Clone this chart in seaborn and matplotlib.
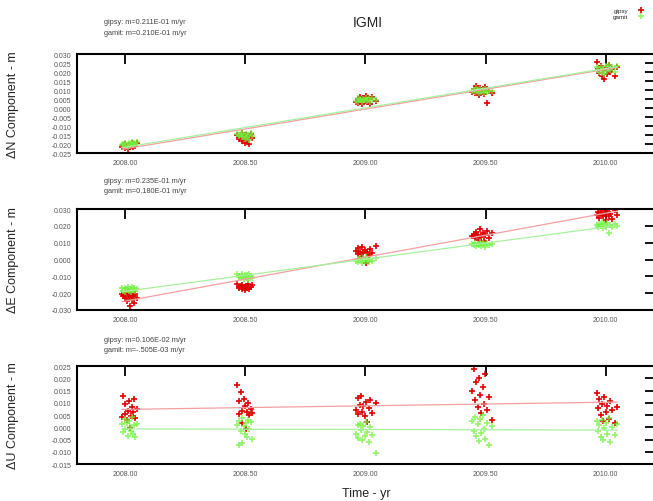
import numpy as np
import pandas as pd
import seaborn as sns
import matplotlib.pyplot as plt
from matplotlib.ticker import FormatStrFormatter

# campaign epochs (decimal year), 14 daily solutions per campaign
time = [2007.987, 2007.992, 2007.998, 2008.001, 2008.007, 2008.010, 2008.016, 2008.019, 2008.025, 2008.028, 2008.034, 2008.039, 2008.043, 2008.049,
        2008.466, 2008.472, 2008.475, 2008.481, 2008.486, 2008.488, 2008.494, 2008.498, 2008.504, 2008.507, 2008.513, 2008.516, 2008.522, 2008.527,
        2008.962, 2008.968, 2008.971, 2008.977, 2008.983, 2008.986, 2008.992, 2008.997, 2009.003, 2009.008, 2009.014, 2009.019, 2009.026, 2009.045,
        2009.445, 2009.452, 2009.456, 2009.461, 2009.468, 2009.471, 2009.477, 2009.483, 2009.488, 2009.494, 2009.499, 2009.506, 2009.515, 2009.528,
        2009.962, 2009.968, 2009.972, 2009.979, 2009.984, 2009.989, 2009.995, 2010.001, 2010.007, 2010.013, 2010.019, 2010.026, 2010.037, 2010.048]

n_gipsy = [-0.0215, -0.0205, -0.0222, -0.0198, -0.0212, -0.0226, -0.0203, -0.0218, -0.0209, -0.0194, -0.0217, -0.0201, -0.0211, -0.0196,
           -0.0148, -0.0162, -0.0171, -0.0155, -0.0183, -0.0139, -0.0166, -0.0192, -0.0150, -0.0176, -0.0158, -0.0201, -0.0145, -0.0168,
           0.0035, 0.0052, 0.0028, 0.0061, 0.0044, 0.0022, 0.0057, 0.0039, 0.0066, 0.0031, 0.0048, 0.0025, 0.0059, 0.0041,
           0.0092, 0.0108, 0.0085, 0.0121, 0.0097, 0.0074, 0.0113, 0.0089, 0.0102, 0.0079, 0.0116, 0.0026, 0.0095, 0.0083,
           0.0255, 0.0218, 0.0197, 0.0232, 0.0176, 0.0209, 0.0163, 0.0224, 0.0188, 0.0241, 0.0201, 0.0215, 0.0181, 0.0228]
n_gamit = [-0.0205, -0.0198, -0.0212, -0.0192, -0.0203, -0.0215, -0.0196, -0.0208, -0.0199, -0.0188, -0.0206, -0.0194, -0.0201, -0.0190,
           -0.0142, -0.0150, -0.0158, -0.0147, -0.0163, -0.0136, -0.0155, -0.0170, -0.0144, -0.0160, -0.0149, -0.0175, -0.0139, -0.0157,
           0.0041, 0.0055, 0.0036, 0.0049, 0.0046, 0.0033, 0.0052, 0.0044, 0.0058, 0.0038, 0.0050, 0.0034, 0.0054, 0.0045,
           0.0094, 0.0101, 0.0088, 0.0109, 0.0097, 0.0082, 0.0105, 0.0091, 0.0099, 0.0086, 0.0107, 0.0090, 0.0096, 0.0093,
           0.0226, 0.0214, 0.0203, 0.0231, 0.0195, 0.0219, 0.0188, 0.0236, 0.0207, 0.0242, 0.0211, 0.0228, 0.0199, 0.0233]

e_gipsy = [-0.0205, -0.0218, -0.0231, -0.0212, -0.0247, -0.0199, -0.0224, -0.0275, -0.0209, -0.0236, -0.0216, -0.0261, -0.0202, -0.0227,
           -0.0148, -0.0162, -0.0171, -0.0155, -0.0178, -0.0151, -0.0166, -0.0183, -0.0158, -0.0169, -0.0146, -0.0175, -0.0161, -0.0153,
           0.0052, 0.0031, 0.0068, 0.0044, 0.0017, 0.0075, 0.0039, 0.0058, -0.0018, 0.0047, 0.0026, 0.0063, 0.0036, 0.0081,
           0.0138, 0.0152, 0.0127, 0.0166, 0.0143, 0.0119, 0.0181, 0.0134, 0.0158, 0.0108, 0.0147, 0.0171, 0.0129, 0.0155,
           0.0262, 0.0281, 0.0249, 0.0275, 0.0293, 0.0256, 0.0268, 0.0238, 0.0287, 0.0259, 0.0272, 0.0244, 0.0297, 0.0265]
e_gamit = [-0.0172, -0.0185, -0.0168, -0.0191, -0.0177, -0.0163, -0.0188, -0.0174, -0.0195, -0.0166, -0.0181, -0.0170, -0.0186, -0.0176,
           -0.0088, -0.0102, -0.0095, -0.0111, -0.0084, -0.0098, -0.0116, -0.0091, -0.0105, -0.0093, -0.0121, -0.0086, -0.0100, -0.0108,
           -0.0008, 0.0004, -0.0015, 0.0011, -0.0003, -0.0021, 0.0007, -0.0011, 0.0015, -0.0006, -0.0017, 0.0002, -0.0009, 0.0009,
           0.0092, 0.0084, 0.0101, 0.0078, 0.0095, 0.0088, 0.0106, 0.0081, 0.0097, 0.0090, 0.0074, 0.0099, 0.0086, 0.0093,
           0.0203, 0.0191, 0.0214, 0.0198, 0.0221, 0.0185, 0.0209, 0.0196, 0.0217, 0.0158, 0.0206, 0.0193, 0.0211, 0.0201]

u_gipsy = [0.0042, 0.0128, 0.0055, 0.0097, 0.0031, 0.0068, 0.0109, -0.0004, 0.0047, 0.0084, 0.0061, 0.0115, 0.0038, 0.0073,
           0.0172, 0.0108, 0.0056, 0.0143, 0.0019, 0.0067, 0.0115, 0.0085, -0.0008, 0.0062, 0.0101, 0.0049, 0.0074, 0.0057,
           0.0071, 0.0118, 0.0054, 0.0093, 0.0128, 0.0063, 0.0086, 0.0045, 0.0105, 0.0021, 0.0078, 0.0112, 0.0058, 0.0099,
           0.0149, 0.0238, 0.0112, 0.0187, 0.0083, 0.0203, 0.0131, 0.0058, 0.0166, 0.0097, 0.0219, 0.0072, 0.0124, 0.0028,
           0.0142, 0.0078, 0.0115, 0.0052, 0.0096, 0.0027, 0.0123, 0.0064, 0.0088, 0.0035, 0.0107, 0.0071, 0.0019, 0.0083]
u_gamit = [0.0012, -0.0021, 0.0034, -0.0008, 0.0019, -0.0035, 0.0026, 0.0003, -0.0015, 0.0041, -0.0027, 0.0008, -0.0040, 0.0015,
           0.0011, -0.0072, 0.0024, -0.0015, 0.0036, -0.0066, 0.0005, -0.0028, 0.0017, -0.0040, 0.0029, -0.0009, 0.0020, -0.0047,
           -0.0028, 0.0008, -0.0042, 0.0015, -0.0011, -0.0053, 0.0004, -0.0035, 0.0021, -0.0019, -0.0060, 0.0000, -0.0031, -0.0105,
           0.0026, -0.0014, 0.0041, -0.0035, 0.0012, -0.0058, 0.0033, -0.0022, 0.0050, -0.0008, -0.0046, 0.0018, -0.0071, 0.0006,
           0.0024, -0.0016, 0.0009, -0.0038, 0.0031, -0.0052, -0.0004, 0.0017, -0.0027, 0.0040, -0.0061, 0.0002, -0.0033, 0.0013]

components = ['N', 'E', 'U']
slope_text = {
    'N': ['gipsy: m=0.211E-01 m/yr', 'gamit: m=0.210E-01 m/yr'],
    'E': ['gipsy: m=0.235E-01 m/yr', 'gamit: m=0.180E-01 m/yr'],
    'U': ['gipsy: m=0.106E-02 m/yr', 'gamit: m=-.505E-03 m/yr'],
}
y_limits = {'N': (-0.025, 0.030), 'E': (-0.030, 0.030), 'U': (-0.015, 0.025)}
y_steps = {'N': 0.005, 'E': 0.010, 'U': 0.005}
x_ticks = [2008.00, 2008.50, 2009.00, 2009.50, 2010.00]

df = pd.DataFrame({
    'time': time * 6,
    'value': n_gipsy + n_gamit + e_gipsy + e_gamit + u_gipsy + u_gamit,
    'component': sum([[c] * (2 * len(time)) for c in components], []),
    'solution': (['gipsy'] * len(time) + ['gamit'] * len(time)) * 3,
})

sns.set_style('white')
plt.rcParams['font.family'] = ['Liberation Sans', 'DejaVu Sans']

colors = {'gipsy': '#e00000', 'gamit': '#6ef23a'}
line_colors = {'gipsy': '#f2a0a0', 'gamit': '#a8f0a0'}

fig = plt.figure(figsize=(6.53, 5.02), dpi=100)
boxes = [[0.118, 0.6932, 0.885, 0.197],
         [0.118, 0.3805, 0.885, 0.201],
         [0.118, 0.0737, 0.885, 0.195]]
text_y = [(0.956, 0.934), (0.639, 0.619), (0.321, 0.301)]

for i, comp in enumerate(components):
    ax = fig.add_axes(boxes[i])
    sub = df[df['component'] == comp]
    for sol in ['gipsy', 'gamit']:
        d = sub[sub['solution'] == sol]
        sns.regplot(x='time', y='value', data=d, ax=ax, scatter=False, ci=None,
                    color=line_colors[sol], line_kws={'linewidth': 0.9})
    for sol, a in [('gipsy', 1.0), ('gamit', 0.75)]:
        d = sub[sub['solution'] == sol]
        sns.scatterplot(x='time', y='value', data=d, ax=ax, marker='+', s=14,
                        color=colors[sol], linewidth=1.2, alpha=a, label=sol)
    lo, hi = y_limits[comp]
    ax.set_xlim(2007.80, 2010.205)
    ax.set_ylim(lo, hi)
    ax.set_xticks(x_ticks)
    ax.set_yticks(np.arange(lo, hi + y_steps[comp] / 2, y_steps[comp]))
    ax.xaxis.set_major_formatter(FormatStrFormatter('%.2f'))
    ax.yaxis.set_major_formatter(FormatStrFormatter('%.3f'))
    ax.tick_params(direction='in', length=7, width=1.3, top=True, right=True,
                   labelsize=5, pad=4, colors='black', labelcolor='#555555')
    for s in ax.spines.values():
        s.set_linewidth(1.5)
        s.set_color('black')
    ax.set_xlabel('')
    ax.set_ylabel('Δ%s Component - m' % comp, fontsize=9)
    ax.yaxis.set_label_coords(-0.100, 0.5)
    handles, labels = ax.get_legend_handles_labels()
    ax.get_legend().remove()
    fig.text(0.159, text_y[i][0], slope_text[comp][0], fontsize=5.3, color='#444444', va='center')
    fig.text(0.159, text_y[i][1], slope_text[comp][1], fontsize=5.3, color='#444444', va='center')

fig.legend(handles, labels, loc='upper right', bbox_to_anchor=(0.995, 0.995), frameon=False,
           fontsize=4.5, markerfirst=False, handlelength=1, handletextpad=1.5, labelspacing=0.1)
fig.text(0.563, 0.955, 'IGMI', fontsize=10, ha='center', va='center')
fig.text(0.561, 0.016, 'Time - yr', fontsize=9, ha='center', va='center')

plt.savefig('out.png', dpi=100)
